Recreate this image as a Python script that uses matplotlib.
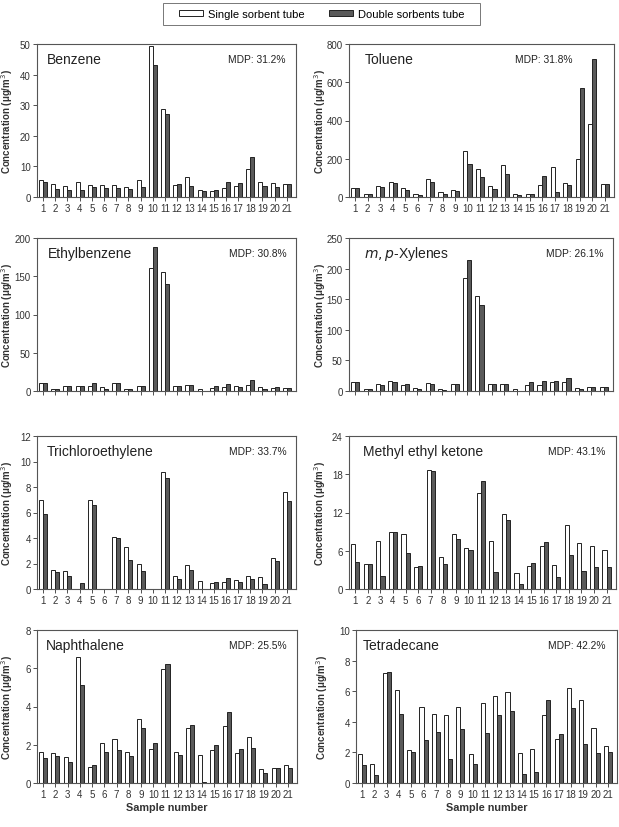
import numpy as np
import matplotlib
matplotlib.use("Agg")
import matplotlib.pyplot as plt
from matplotlib.patches import Patch, Rectangle

plt.rcParams['font.family'] = ['Liberation Sans', 'DejaVu Sans']

samples = np.arange(1, 22)

# single sorbent tube / double sorbents tube, ug/m3
benzene_single = [5.7, 4.2, 3.6, 4.8, 3.9, 3.8, 3.9, 3.2, 5.5, 49.3, 28.6, 3.8, 6.4, 2.3, 2.0, 3.1, 3.6, 9.2, 5.0, 4.6, 4.3]
benzene_double = [4.8, 2.7, 2.2, 2.4, 3.4, 3.0, 2.8, 2.5, 3.3, 43.0, 27.2, 4.4, 3.7, 1.9, 2.4, 4.9, 4.7, 13.2, 3.6, 3.3, 4.3]

toluene_single = [47, 18, 57, 77, 48, 18, 95, 28, 37, 240, 148, 55, 165, 18, 17, 62, 155, 73, 198, 380, 68]
toluene_double = [45, 17, 50, 72, 37, 13, 78, 17, 32, 172, 105, 40, 118, 13, 18, 108, 28, 63, 568, 720, 66]

ethylbenzene_single = [11, 3, 7, 7, 7, 5, 10, 3, 6, 161, 156, 7, 8, 2, 4, 5, 6, 8, 5, 4, 4]
ethylbenzene_double = [10, 3, 6, 7, 10, 3, 10, 2, 6, 188, 140, 6, 8, 0.5, 6, 9, 5, 15, 3, 5, 4]

xylenes_single = [14, 4, 12, 16, 9, 5, 13, 4, 12, 185, 156, 12, 11, 3, 10, 10, 15, 15, 5, 6, 6]
xylenes_double = [14, 4, 10, 15, 12, 3, 12, 2, 12, 214, 141, 11, 11, 0.5, 14, 16, 16, 22, 3, 6, 6]

tce_single = [7.0, 1.5, 1.4, 0, 7.0, 0, 4.1, 3.3, 2.0, 0, 9.2, 1.0, 1.85, 0.6, 0.45, 0.55, 0.7, 1.0, 0.95, 2.4, 7.6]
tce_double = [5.9, 1.3, 1.05, 0.5, 6.6, 0, 4.0, 2.3, 1.4, 0, 8.7, 0.8, 1.5, 0, 0.55, 0.9, 0.55, 0.75, 0.4, 2.2, 6.9]

mek_single = [7.0, 3.9, 7.6, 8.9, 8.7, 3.5, 18.6, 5.0, 8.7, 6.4, 15.1, 7.6, 11.7, 2.5, 3.6, 6.8, 3.8, 10.0, 7.2, 6.8, 6.1]
mek_double = [4.2, 3.9, 2.0, 8.9, 5.6, 3.6, 18.5, 3.9, 7.9, 6.1, 16.9, 2.6, 10.9, 0.8, 4.1, 7.3, 1.9, 5.3, 2.8, 3.4, 3.5]

naph_single = [1.62, 1.58, 1.35, 6.6, 0.82, 2.07, 2.28, 1.6, 3.35, 1.77, 5.98, 1.63, 2.85, 1.47, 1.75, 3.0, 1.57, 2.38, 0.72, 0.78, 0.95]
naph_double = [1.32, 1.40, 1.12, 5.1, 0.92, 1.6, 1.7, 1.43, 2.88, 2.1, 6.24, 1.48, 3.02, 0.07, 1.97, 3.72, 1.78, 1.83, 0.52, 0.78, 0.78]

tetra_single = [1.87, 1.22, 7.17, 6.08, 2.18, 5.0, 4.5, 4.42, 4.98, 1.92, 5.2, 5.67, 5.98, 1.95, 2.23, 4.45, 2.9, 6.22, 5.4, 3.62, 2.45]
tetra_double = [1.15, 0.5, 7.25, 4.52, 2.05, 2.83, 3.35, 1.58, 3.55, 1.25, 3.27, 4.45, 4.68, 0.62, 0.72, 5.43, 3.18, 4.9, 2.57, 1.95, 2.0]

names = ["Benzene", "Toluene", "Ethylbenzene", "$\\it{m,p}$-Xylenes",
         "Trichloroethylene", "Methyl ethyl ketone", "Naphthalene", "Tetradecane"]
mdp = ["31.2%", "31.8%", "30.8%", "26.1%", "33.7%", "43.1%", "25.5%", "42.2%"]
singles = [benzene_single, toluene_single, ethylbenzene_single, xylenes_single,
           tce_single, mek_single, naph_single, tetra_single]
doubles = [benzene_double, toluene_double, ethylbenzene_double, xylenes_double,
           tce_double, mek_double, naph_double, tetra_double]
y_ticks = [np.arange(0, 51, 10), np.arange(0, 801, 200), np.arange(0, 201, 50), np.arange(0, 251, 50),
           np.arange(0, 13, 2), np.arange(0, 25, 6), np.arange(0, 9, 2), np.arange(0, 11, 2)]

W, H = 619, 828
fig = plt.figure(figsize=(W / 100, H / 100), dpi=100)

# panel boxes in pixels: left, right, top
box_l = [37, 349, 37, 349, 37, 349, 37, 356]
box_r = [296, 614, 296, 613, 296, 616, 297, 617]
tops = [45, 239, 437, 631]
ax_h = 153
name_dx = [10, 16, 11, 15, 10, 14, 9, 7]
mdp_dx = [10, 41, 9, 10, 9, 11, 10, 11]
lab_dx = [22, 21, 22, 21, 22, 21, 22, 26]

txt = '#333333'
bar_w = 0.33
for i in range(8):
    r, c = divmod(i, 2)
    w = box_r[i] - box_l[i]
    ax = fig.add_axes([box_l[i] / W, 1 - (tops[r] + ax_h) / H, w / W, ax_h / H])
    ax.bar(samples - bar_w / 2, singles[i], width=bar_w, color='white', edgecolor='#222222', linewidth=0.7)
    ax.bar(samples + bar_w / 2, doubles[i], width=bar_w, color='#5a5a5a', edgecolor='#222222', linewidth=0.7)
    ax.set_xlim(0.5, 21.75)
    ax.set_ylim(0, y_ticks[i][-1])
    ax.set_yticks(y_ticks[i])
    ax.set_xticks(samples)
    ax.tick_params(labelsize=7, colors=txt, length=3, width=0.6, pad=1.5)
    if r == 1:
        ax.set_xticklabels([])
    for s in ax.spines.values():
        s.set_color('#555555')
        s.set_linewidth(0.8)
    ax.text(name_dx[i] / w, 0.9, names[i], transform=ax.transAxes, fontsize=10, color='#222222', va='center')
    ax.text(1 - mdp_dx[i] / w, 0.9, "MDP: " + mdp[i], transform=ax.transAxes, fontsize=7.4,
            color='#222222', va='center', ha='right')
    ax.set_ylabel("Concentration (\u03bcg/m$^3$)", fontsize=7, fontweight='bold', color=txt)
    ax.yaxis.set_label_coords(-lab_dx[i] / w, 0.5)
    if r == 3:
        ax.set_xlabel("Sample number", fontsize=7.8, fontweight='bold', color=txt, labelpad=2)

# legend with a hand-placed frame
fig.patches.append(Rectangle((163 / W, 1 - 26 / H), (480 - 163) / W, 22 / H, transform=fig.transFigure,
                             facecolor='white', edgecolor='#777777', linewidth=0.7))
handles = [Patch(facecolor='white', edgecolor='#222222', linewidth=0.7, label='Single sorbent tube'),
           Patch(facecolor='#5a5a5a', edgecolor='#222222', linewidth=0.7, label='Double sorbents tube')]
fig.legend(handles=handles, loc='center', bbox_to_anchor=(322 / W, 1 - 15 / H), ncol=2,
           fontsize=8, frameon=False, handlelength=2.1, handleheight=0.5, columnspacing=2.2,
           handletextpad=0.5, borderpad=0.2)

fig.savefig("out.png", dpi=100)
